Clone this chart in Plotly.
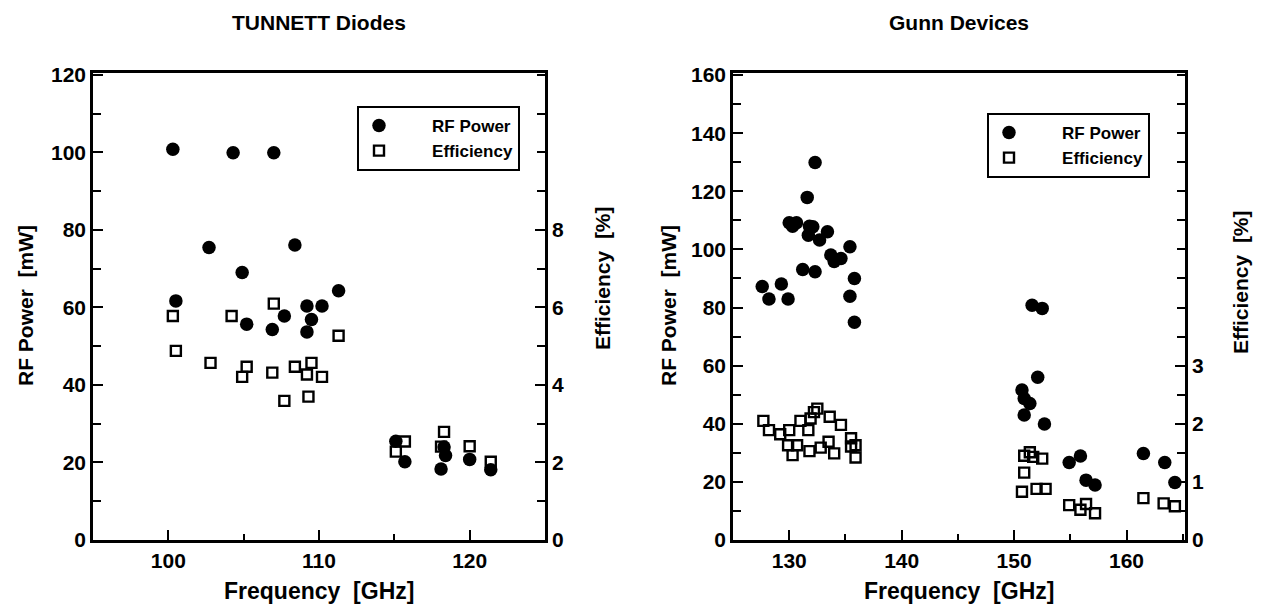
import plotly.graph_objects as go

# ---------------- data ----------------
# TUNNETT diodes
tun_pow_freq = [100.3, 104.3, 107.0, 102.7, 108.4, 104.9, 100.5, 111.3, 109.2, 110.2,
                107.7, 109.5, 105.2, 106.9, 109.2, 115.1, 115.7, 118.1, 118.3, 118.4,
                120.0, 121.4]
tun_power = [100.8, 99.9, 99.9, 75.5, 76.1, 69.0, 61.7, 64.3, 60.4, 60.4,
             57.8, 56.9, 55.7, 54.3, 53.7, 25.5, 20.2, 18.3, 24.0, 21.8,
             20.8, 18.1]
tun_eff_freq = [100.3, 100.5, 102.8, 104.2, 105.2, 104.9, 107.0, 106.9, 107.7, 108.4,
                109.5, 109.2, 110.2, 109.3, 111.3, 115.1, 115.7, 118.3, 118.1, 120.0,
                121.4]
tun_eff = [5.78, 4.88, 4.57, 5.78, 4.47, 4.21, 6.10, 4.32, 3.59, 4.47,
           4.57, 4.27, 4.21, 3.70, 5.27, 2.28, 2.54, 2.79, 2.41, 2.42,
           2.02]

# Gunn devices
gunn_pow_freq = [127.6, 128.2, 129.3, 129.9, 130.0, 130.65, 130.3, 131.6, 131.2, 131.8,
                 132.1, 131.7, 132.3, 132.3, 132.7, 133.4, 133.7, 134.0, 134.6, 135.4,
                 135.4, 135.8, 135.8,
                 151.6, 152.5, 150.7, 150.9, 151.4, 152.1, 150.9, 152.7,
                 154.9, 155.9, 156.4, 157.2, 161.5, 163.4, 164.3]
gunn_power = [87.2, 82.9, 88.1, 82.9, 109.2, 109.2, 108.0, 117.9, 93.1, 108.0,
              107.8, 104.9, 129.9, 92.3, 103.2, 106.1, 98.1, 95.8, 96.9, 100.9,
              83.9, 90.0, 74.9,
              80.8, 79.7, 51.6, 48.7, 47.0, 56.0, 43.0, 39.9,
              26.7, 28.9, 20.6, 18.9, 29.8, 26.7, 19.8]
gunn_eff_freq = [127.7, 128.2, 129.2, 130.0, 129.9, 130.3, 130.7, 131.0, 131.7, 131.9,
                 132.2, 132.5, 131.8, 132.8, 133.5, 133.6, 134.0, 134.6, 135.5, 135.5,
                 135.9, 135.9,
                 150.9, 151.4, 151.7, 152.5, 150.9, 150.7, 152.0, 152.8,
                 154.9, 155.9, 156.4, 157.2, 161.5, 163.3, 164.3]
gunn_eff = [2.05, 1.89, 1.82, 1.89, 1.63, 1.46, 1.63, 2.05, 1.89, 2.09,
            2.20, 2.26, 1.53, 1.59, 1.69, 2.12, 1.49, 1.98, 1.75, 1.61,
            1.63, 1.42,
            1.45, 1.51, 1.43, 1.40, 1.16, 0.83, 0.88, 0.88,
            0.60, 0.52, 0.62, 0.46, 0.72, 0.63, 0.58]

titles = ["TUNNETT Diodes", "Gunn Devices"]
x_title = "Frequency  [GHz]"
y_title = "RF Power  [mW]"
y2_title = "Efficiency  [%]"
legend_names = ["RF Power", "Efficiency"]

# ---------------- figure ----------------
FONT = "Liberation Sans"
NB = "\u00a0"
PAD = NB * 7
circle = dict(symbol="circle", size=13.5, color="black")
square = dict(symbol="square-open", size=10, color="black", line=dict(width=2.4, color="black"))

fig = go.Figure()
fig.add_trace(go.Scatter(x=tun_pow_freq, y=tun_power, mode="markers", marker=circle,
                         name=PAD + legend_names[0], xaxis="x", yaxis="y", legend="legend"))
fig.add_trace(go.Scatter(x=tun_eff_freq, y=tun_eff, mode="markers", marker=square,
                         name=PAD + legend_names[1], xaxis="x", yaxis="y2", legend="legend"))
fig.add_trace(go.Scatter(x=gunn_pow_freq, y=gunn_power, mode="markers", marker=circle,
                         name=PAD + legend_names[0], xaxis="x2", yaxis="y3", legend="legend2"))
fig.add_trace(go.Scatter(x=gunn_eff_freq, y=gunn_eff, mode="markers", marker=square,
                         name=PAD + legend_names[1], xaxis="x2", yaxis="y4", legend="legend2"))

W, H = 1264, 607
def px(x):
    return x / W
def py(y):
    return 1 - y / H

ytop, ybot = 73, 540
tickfont = dict(family=FONT, size=21, color="black", weight="bold")
common = dict(showline=True, linecolor="black", linewidth=2.5, ticks="inside",
              tickcolor="black", tickwidth=2, ticklen=10, showgrid=False, zeroline=False,
              tickfont=tickfont, automargin=False)

xaxis_common = dict(common, mirror=True,
                    minor=dict(dtick=5, ticks="inside", ticklen=6, tickcolor="black", tickwidth=2))
yminor = dict(ticks="inside", ticklen=8, tickcolor="black", tickwidth=2)

fig.update_layout(
    width=W, height=H,
    margin=dict(l=0, r=0, t=0, b=0, autoexpand=False),
    paper_bgcolor="white", plot_bgcolor="white",
    font=dict(family=FONT, color="black", weight="bold"),
    showlegend=True,
    xaxis=dict(xaxis_common, domain=[px(93), px(545)], range=[95, 125],
               tickvals=[100, 110, 120], anchor="y"),
    yaxis=dict(common, domain=[py(ybot), py(ytop)], range=[0, 120.5], anchor="x",
               tickvals=[0, 20, 40, 60, 80, 100, 120], minor=dict(yminor, dtick=10)),
    yaxis2=dict(common, overlaying="y", side="right", anchor="x", range=[0, 12.05],
                tickvals=[0, 2, 4, 6, 8], minor=dict(yminor, dtick=1)),
    xaxis2=dict(xaxis_common, domain=[px(733), px(1185)], range=[125, 165.2],
                tickvals=[130, 140, 150, 160], anchor="y3"),
    yaxis3=dict(common, domain=[py(ybot), py(ytop)], range=[0, 160.7], anchor="x2",
                tickvals=[0, 20, 40, 60, 80, 100, 120, 140, 160], minor=dict(yminor, dtick=10)),
    yaxis4=dict(common, overlaying="y3", side="right", anchor="x2", range=[0, 8.035],
                tickvals=[0, 1, 2, 3], minor=dict(yminor, dtick=0.5)),
    legend=dict(x=px(357), y=py(106), xanchor="left", yanchor="top",
                bordercolor="black", borderwidth=2, bgcolor="white",
                font=dict(family=FONT, size=17, color="black", weight="bold"),
                tracegroupgap=0, itemsizing="trace"),
    legend2=dict(x=px(987), y=py(113), xanchor="left", yanchor="top",
                 bordercolor="black", borderwidth=2, bgcolor="white",
                 font=dict(family=FONT, size=17, color="black", weight="bold"),
                 tracegroupgap=0, itemsizing="trace"),
)

xt_font = dict(family=FONT, size=23, color="black", weight="bold")
yt_font = dict(family=FONT, size=21, color="black", weight="bold")
title_font = dict(family=FONT, size=21, color="black", weight="bold")
annotations = [
    dict(text=titles[0], x=px(319), y=py(22), font=title_font),
    dict(text=titles[1], x=px(959), y=py(22), font=title_font),
    dict(text=x_title, x=px(319), y=py(591), font=xt_font),
    dict(text=x_title, x=px(959), y=py(591), font=xt_font),
    dict(text=y_title, x=px(25), y=py(306), font=yt_font, textangle=-90),
    dict(text=y_title, x=px(668), y=py(306), font=yt_font, textangle=-90),
    dict(text=y2_title, x=px(603), y=py(278), font=yt_font, textangle=-90),
    dict(text=y2_title, x=px(1240), y=py(282), font=yt_font, textangle=-90),
]
for a in annotations:
    a.update(xref="paper", yref="paper", showarrow=False, xanchor="center", yanchor="middle")
fig.update_layout(annotations=annotations)

fig.write_html(
    "out.html",
    config={"displayModeBar": False},
    post_script="document.body.style.margin='0';document.body.style.overflow='hidden';",
)
